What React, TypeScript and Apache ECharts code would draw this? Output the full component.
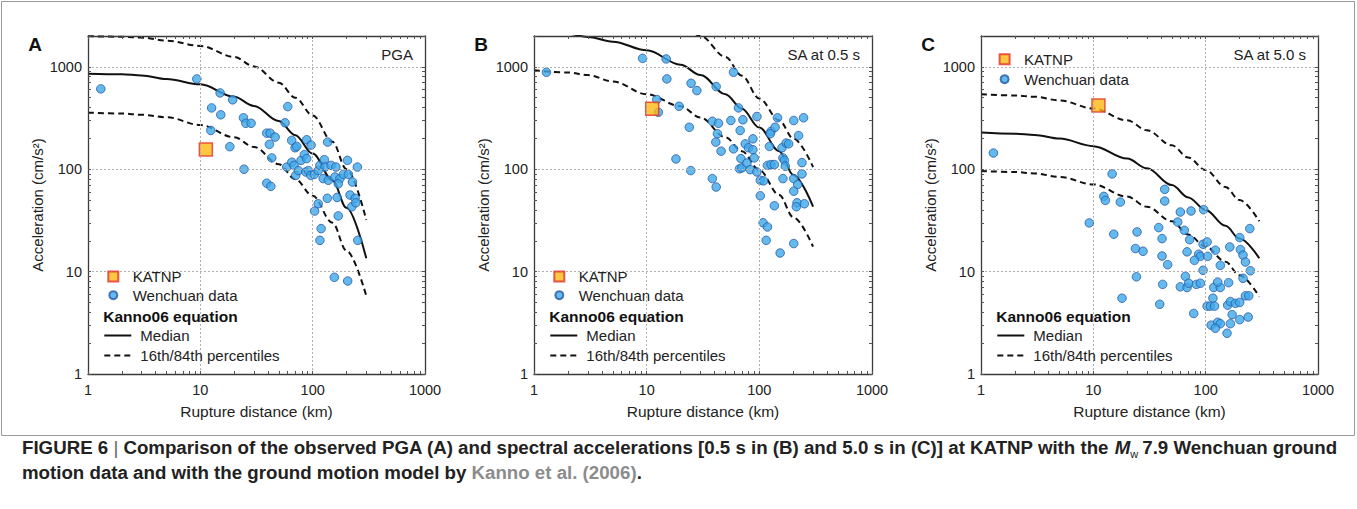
import React, { useEffect, useRef } from 'react';
import * as echarts from 'echarts';

const FONT = '"Liberation Sans", Arial, Helvetica, sans-serif';

// ---- model curves (Kanno06), distance in km ----
const DIST = [1, 2, 3, 5, 10, 20, 30, 50, 70, 100, 150, 200, 300];
const A_MED = [858, 845, 825, 760, 675, 510, 415, 295, 215, 142, 78, 42, 13.5];
const A_LO = [357, 350, 340, 322, 270, 205, 165, 112, 80, 55, 30, 16, 5.8];
const A_HI = [1990, 1970, 1930, 1800, 1600, 1250, 1010, 700, 500, 335, 185, 100, 32];
const B_MED = [2250, 2100, 1960, 1760, 1450, 1050, 830, 540, 390, 255, 150, 88, 43];
const B_LO = [925, 880, 830, 720, 540, 412, 320, 205, 150, 98, 56, 34, 17.5];
const B_HI = [5600, 5250, 4900, 4400, 3600, 2700, 2000, 1250, 820, 490, 300, 200, 105];
const C_MED = [228, 222, 216, 199, 168, 127, 102, 70, 53, 40, 28, 21, 13.5];
const C_LO = [96, 94, 91, 84, 71, 54, 43, 31, 23, 17.5, 12.5, 9.2, 5.7];
const C_HI = [541, 525, 510, 470, 392, 300, 240, 171, 130, 98, 67, 50, 31];

// ---- KATNP observations [distance, acceleration] ----
const A_KATNP = [[11.2, 156]];
const B_KATNP = [[11.2, 390]];
const C_KATNP = [[11.1, 420]];

// ---- Wenchuan data [distance, acceleration] ----
const A_WEN = [
  [1.3, 609], [9.3, 762], [15.0, 556], [19.4, 476], [12.6, 397], [15.2, 340], [12.4, 239], [18.3, 166],
  [24.2, 318], [25.4, 281], [28.3, 281], [24.5, 100], [39, 225], [41.8, 225], [46.3, 206], [41.2, 175],
  [43.2, 129], [39, 73], [42.4, 68], [56.8, 284], [60, 409], [58.8, 105], [65, 191], [69.7, 162],
  [72.2, 167], [88.5, 194], [96.8, 172], [136, 184], [65.2, 117], [68.3, 109], [70.7, 87], [74.6, 97],
  [78.8, 122], [84.4, 139], [88.5, 127], [86.8, 94], [91.6, 97], [96.2, 87], [103.5, 89], [112, 97],
  [116, 109], [127, 124], [129, 105], [124, 81], [138, 78], [146, 109], [161, 105], [158, 84],
  [175, 81], [169, 72], [188, 89], [204, 122], [208, 89], [226, 75], [250, 105], [165, 53],
  [135, 52], [112, 46], [104, 39], [169, 35], [215, 56], [223, 43], [239, 52], [242, 47],
  [119, 26.3], [116, 20.2], [252, 20.2], [156, 8.8], [205, 8.1],
];
const B_WEN = [
  [1.29, 885], [9.2, 1210], [14.9, 1194], [15.1, 762], [12.3, 479], [12.7, 360], [19.4, 412], [24.8, 691],
  [27.9, 586], [18.2, 126], [23.9, 257], [24.6, 97], [59, 885], [41.4, 641], [65.3, 397], [38.3, 294],
  [43.4, 281], [55.9, 299], [71.5, 304], [95.2, 327], [67.6, 239], [42.5, 222], [41.1, 184], [45.8, 150],
  [59, 158], [87.7, 198], [75, 177], [80.2, 162], [87.7, 155], [68.6, 127], [90.1, 129], [66.7, 101],
  [70, 103], [77.6, 115], [83, 99], [95.2, 94], [102, 78], [109, 77], [102, 55], [118, 109],
  [127, 111], [136, 111], [123, 167], [127, 234], [125, 222], [138, 257], [145, 318], [159, 162],
  [173, 180], [182, 177], [162, 129], [167, 122], [170, 107], [162, 81], [136, 44], [202, 299],
  [247, 318], [223, 213], [239, 116], [239, 90], [202, 81], [219, 71], [202, 61], [216, 47],
  [213, 43], [251, 46], [108, 30], [118, 27.3], [115, 20.2], [202, 18.8], [153, 15.2], [38.3, 81],
  [41.4, 67],
];
const C_WEN = [
  [1.29, 144], [14.7, 90], [12.4, 54.3], [12.8, 49.6], [17.4, 47.8], [9.2, 29.9], [15.2, 23.2], [24.5, 24.4],
  [23.7, 16.8], [27.7, 15.8], [24.2, 8.9], [18, 5.5], [43.2, 63.6], [43.2, 48.9], [59.5, 38.2], [74.1, 39.1],
  [96, 40.3], [56.3, 30.5], [38.2, 26.9], [40.9, 21], [64.6, 25.3], [72, 20.5], [94.8, 18.5], [103, 19.5],
  [40.9, 14.2], [45.9, 11.7], [68.3, 15.6], [86.7, 14.8], [89.7, 14.1], [79.4, 12.9], [104, 14.1], [122, 16.2],
  [135, 11.5], [164, 17.4], [201, 21.5], [247, 26.3], [204, 16.4], [215, 14.5], [226, 12.4], [94.8, 10.3],
  [250, 10.2], [215, 8.6], [41.4, 7.5], [66, 9.0], [59.5, 7.1], [68.3, 7.0], [70.6, 7.7], [82.6, 7.5],
  [89.7, 7.7], [118, 7.0], [135, 7.0], [128, 7.9], [160, 7.8], [116, 5.5], [39, 4.8], [103, 4.6],
  [110, 4.6], [120, 4.6], [157, 4.7], [166, 5.1], [184, 4.9], [201, 5.0], [226, 5.8], [242, 5.8],
  [78.2, 3.9], [172, 3.8], [201, 3.4], [239, 3.6], [112, 3.0], [128, 3.2], [135, 3.1], [166, 3.1],
  [122, 2.8], [155, 2.5],
];

// ---- axis ticks / labels ----
const X_LABELS = [1, 10, 100, 1000];
const Y_LABELS = [1, 10, 100, 1000];
const X_TICKS = [1, 2, 3, 4, 5, 6, 7, 8, 9, 10, 20, 30, 40, 50, 60, 70, 80, 90, 100, 200, 300, 400, 500, 600, 700, 800, 900, 1000];
const Y_TICKS = [...X_TICKS, 2000];
const X_GRID = [10, 100];
const Y_GRID = [10, 100, 1000];

const PANEL_LETTERS = ['A', 'B', 'C'];
const PANEL_TITLES = ['PGA', 'SA at 0.5 s', 'SA at 5.0 s'];

const PANELS = [
  { wen: A_WEN, katnp: A_KATNP, med: A_MED, lo: A_LO, hi: A_HI, left: 88, width: 337 },
  { wen: B_WEN, katnp: B_KATNP, med: B_MED, lo: B_LO, hi: B_HI, left: 534, width: 338 },
  { wen: C_WEN, katnp: C_KATNP, med: C_MED, lo: C_LO, hi: C_HI, left: 981, width: 337 },
];

const TOP = 36;
const HEIGHT = 338;
const DASH = [6, 4];
const NO_SYMBOL_STYLE = { color: 'rgba(0,0,0,0)', borderColor: 'rgba(0,0,0,0)', borderWidth: 0 };

function zip(xs: number[], ys: number[]) {
  return xs.map((x, i) => [x, ys[i]]);
}

function buildOption() {
  const grid: any[] = [];
  const xAxis: any[] = [];
  const yAxis: any[] = [];
  const series: any[] = [];
  const legend: any[] = [];
  const graphic: any[] = [];

  const axisCommon = {
    type: 'log',
    logBase: 10,
    z: 5,
    axisLine: { show: true, onZero: false, lineStyle: { color: '#3a3a3a', width: 1.3 } },
    axisTick: { show: true, inside: true, length: 3, lineStyle: { color: '#555', width: 1 } },
    splitLine: { show: false },
    minorTick: { show: false },
  };
  const labelStyle = {
    fontSize: 14.5,
    color: '#222',
    fontFamily: FONT,
    formatter: (v: number) => String(Math.round(v)),
  };
  const textStyle = { fontSize: 15, color: '#222', fontFamily: FONT };

  graphic.push({
    type: 'rect',
    z: 0,
    shape: { x: 1.5, y: 1.5, width: 1353, height: 434 },
    style: { fill: 'none', stroke: '#9a9a9a', lineWidth: 1 },
    silent: true,
  });

  PANELS.forEach((p, i) => {
    const L = p.left;
    grid.push({ left: L, top: TOP, width: p.width, height: HEIGHT });
    xAxis.push({
      ...axisCommon,
      gridIndex: i,
      position: 'bottom',
      min: 1,
      max: 1000,
      axisTick: { ...axisCommon.axisTick, customValues: X_TICKS },
      axisLabel: { ...labelStyle, customValues: X_LABELS, margin: 8 },
      name: 'Rupture distance (km)',
      nameLocation: 'middle',
      nameGap: 29,
      nameTextStyle: { fontSize: 15.5, color: '#222', fontFamily: FONT },
    });
    xAxis.push({
      ...axisCommon,
      gridIndex: i,
      position: 'top',
      min: 1,
      max: 1000,
      axisTick: { ...axisCommon.axisTick, customValues: X_TICKS },
      axisLabel: { show: false },
    });
    yAxis.push({
      ...axisCommon,
      gridIndex: i,
      position: 'left',
      min: 1,
      max: 2000,
      axisTick: { ...axisCommon.axisTick, customValues: Y_TICKS },
      axisLabel: { ...labelStyle, customValues: Y_LABELS, margin: 6 },
      name: 'Acceleration (cm/s²)',
      nameLocation: 'middle',
      nameGap: 43,
      nameTextStyle: { fontSize: 15, color: '#222', fontFamily: FONT },
    });
    yAxis.push({
      ...axisCommon,
      gridIndex: i,
      position: 'right',
      min: 1,
      max: 2000,
      axisTick: { ...axisCommon.axisTick, customValues: Y_TICKS },
      axisLabel: { show: false },
    });

    const xi = i * 2;
    const yi = i * 2;

    // dotted grid lines at decades
    series.push({
      type: 'line',
      name: 'gridlines-' + i,
      xAxisIndex: xi,
      yAxisIndex: yi,
      data: [],
      z: 0,
      silent: true,
      markLine: {
        silent: true,
        symbol: 'none',
        animation: false,
        label: { show: false },
        lineStyle: { color: '#b0b0b0', type: [2, 2], width: 1 },
        emphasis: { disabled: true },
        data: [
          ...X_GRID.map((v) => ({ xAxis: v })),
          ...Y_GRID.map((v) => ({ yAxis: v })),
        ],
      },
    });

    const lineBase = {
      type: 'line',
      xAxisIndex: xi,
      yAxisIndex: yi,
      symbol: 'none',
      smooth: 0.35,
      smoothMonotone: 'x',
      clip: true,
      z: 2,
      itemStyle: NO_SYMBOL_STYLE,
    };
    series.push({ ...lineBase, name: 'Median', data: zip(DIST, p.med), lineStyle: { color: '#111', width: 2 } });
    series.push({ ...lineBase, name: '16th/84th percentiles', data: zip(DIST, p.hi), lineStyle: { color: '#111', width: 2, type: DASH } });
    series.push({ ...lineBase, name: '16th/84th percentiles', data: zip(DIST, p.lo), lineStyle: { color: '#111', width: 2, type: DASH } });
    series.push({
      type: 'scatter',
      name: 'Wenchuan data',
      xAxisIndex: xi,
      yAxisIndex: yi,
      data: p.wen,
      symbol: 'circle',
      symbolSize: 8.5,
      z: 3,
      itemStyle: { color: '#3ea9e8', borderColor: '#2457a6', borderWidth: 1 },
    });
    series.push({
      type: 'scatter',
      name: 'KATNP',
      xAxisIndex: xi,
      yAxisIndex: yi,
      data: p.katnp,
      symbol: 'rect',
      symbolSize: 13,
      z: 4,
      itemStyle: { color: '#fdb913', borderColor: '#e4312a', borderWidth: 1.5 },
    });

    // legends
    const isC = i === 2;
    const mx = isC ? L + 22.6 : L + 24.3; // marker centre x
    const tx = isC ? L + 42 : L + 43.7; // text start x
    const y1 = isC ? 56.7 : 274;
    const y2 = isC ? 75.7 : 291.7;
    legend.push({
      data: ['KATNP'],
      orient: 'vertical',
      left: mx - 5,
      top: y1 - 5,
      itemWidth: 10,
      itemHeight: 10,
      padding: 0,
      selectedMode: false,
      z: 6,
      textStyle: { ...textStyle, padding: [0, 0, 0, tx - (mx - 5 + 15)] },
    });
    legend.push({
      data: ['Wenchuan data'],
      orient: 'vertical',
      left: mx - 4,
      top: y2 - 4,
      itemWidth: 8,
      itemHeight: 8,
      padding: 0,
      selectedMode: false,
      z: 6,
      textStyle: { ...textStyle, padding: [0, 0, 0, tx - (mx - 4 + 13)] },
    });
    legend.push({
      data: ['Median', '16th/84th percentiles'],
      orient: 'vertical',
      left: L + 15.3,
      top: 328,
      itemWidth: 27,
      itemHeight: 14,
      itemGap: 5,
      padding: 0,
      selectedMode: false,
      z: 6,
      textStyle: { ...textStyle, padding: [0, 0, 0, 4] },
    });

    // white legend backgrounds
    if (isC) {
      graphic.push({ type: 'rect', z: 1, silent: true, shape: { x: L + 1, y: TOP + 1, width: 156, height: 46 }, style: { fill: '#fff' } });
      graphic.push({ type: 'rect', z: 1, silent: true, shape: { x: L + 1, y: 299, width: 199, height: 74 }, style: { fill: '#fff' } });
    } else {
      graphic.push({ type: 'rect', z: 1, silent: true, shape: { x: L + 1, y: 258, width: 168, height: 115 }, style: { fill: '#fff' } });
    }

    graphic.push({
      type: 'text',
      z: 6,
      x: L + 15.3,
      y: 316.7,
      style: { text: 'Kanno06 equation', fontSize: 15.5, fontWeight: 'bold', fontFamily: FONT, fill: '#111', align: 'left', verticalAlign: 'middle' },
    });
    graphic.push({
      type: 'text',
      z: 6,
      x: L - 53,
      y: 44,
      style: { text: PANEL_LETTERS[i], fontSize: 19, fontWeight: 'bold', fontFamily: FONT, fill: '#111', align: 'center', verticalAlign: 'middle' },
    });
    graphic.push({
      type: 'text',
      z: 6,
      x: L + p.width - 12,
      y: 54,
      style: { text: PANEL_TITLES[i], fontSize: 15, fontFamily: FONT, fill: '#222', align: 'right', verticalAlign: 'middle' },
    });
  });

  // caption
  const CAP = 18.7;
  const capRich = {
    b: { fontSize: CAP, fontWeight: 'bold', fontFamily: FONT, fill: '#222', lineHeight: 24 },
    s: { fontSize: CAP, fontFamily: FONT, fill: '#666', lineHeight: 24 },
    i: { fontSize: CAP, fontWeight: 'bold', fontStyle: 'italic', fontFamily: FONT, fill: '#222', lineHeight: 24 },
    sub: { fontSize: 11, fontFamily: FONT, fill: '#222', lineHeight: 12, verticalAlign: 'bottom', padding: [0, 4, 0, 0] },
    g: { fontSize: CAP, fontWeight: 'bold', fontFamily: FONT, fill: '#8c8c8c', lineHeight: 24 },
  };
  graphic.push({
    type: 'text',
    z: 6,
    x: 22,
    y: 447,
    style: {
      text: '{b|FIGURE 6 }{s|| }{b|Comparison of the observed PGA (A) and spectral accelerations [0.5 s in (B) and 5.0 s in (C)] at KATNP with the }{i|M}{sub|w}{b|7.9 Wenchuan ground}',
      rich: capRich,
      align: 'left',
      verticalAlign: 'middle',
    },
  });
  graphic.push({
    type: 'text',
    z: 6,
    x: 22,
    y: 472,
    style: {
      text: '{b|motion data and with the ground motion model by }{g|Kanno et al. (2006)}{b|.}',
      rich: capRich,
      align: 'left',
      verticalAlign: 'middle',
    },
  });

  return {
    animation: false,
    backgroundColor: '#ffffff',
    textStyle: { fontFamily: FONT },
    grid,
    xAxis,
    yAxis,
    legend,
    series,
    graphic,
  };
}

export default function App() {
  const ref = useRef<HTMLDivElement>(null);
  useEffect(() => {
    if (!ref.current) return;
    const chart = echarts.init(ref.current, undefined, { renderer: 'svg' });
    chart.setOption(buildOption() as any);
    return () => chart.dispose();
  }, []);
  return (
    <div
      ref={ref}
      style={{ position: 'absolute', left: 0, top: 0, width: 1357, height: 509, background: '#fff' }}
    />
  );
}
